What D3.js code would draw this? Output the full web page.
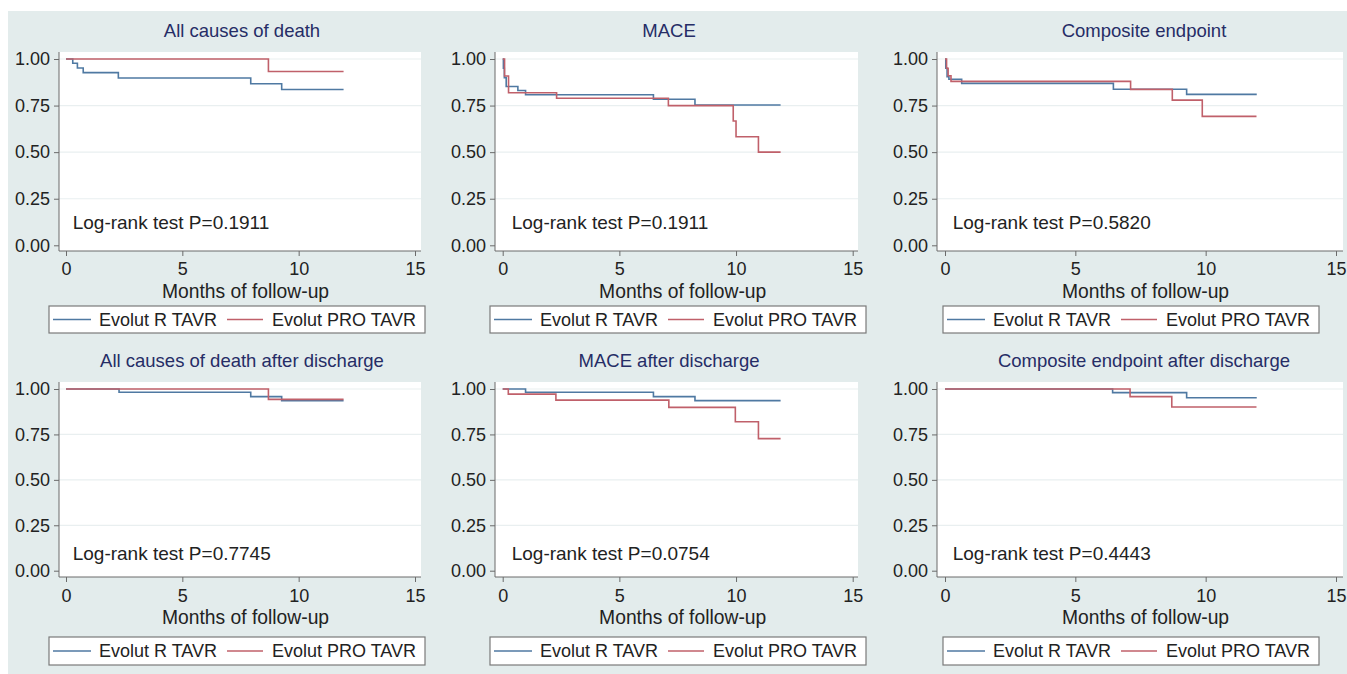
<!DOCTYPE html>
<html>
<head>
<meta charset="utf-8">
<script src="https://cdn.jsdelivr.net/npm/d3@7"></script>
<style>
  html, body { margin: 0; padding: 0; background: #ffffff; }
  svg { display: block; }
  text { font-family: "Liberation Sans", Arial, Helvetica, sans-serif; }
</style>
</head>
<body>
<svg id="chart" width="1347" height="674"></svg>
<script>
// ---------------- DATA ----------------
const panelTitles = [
  "All causes of death", "MACE", "Composite endpoint",
  "All causes of death after discharge", "MACE after discharge", "Composite endpoint after discharge"
];
const pValues = ["0.1911", "0.1911", "0.5820", "0.7745", "0.0754", "0.4443"];
const seriesNames = ["Evolut R TAVR", "Evolut PRO TAVR"];
const xTicks = [0, 5, 10, 15];
const yTicks = [0, 0.25, 0.5, 0.75, 1];
const xLabel = "Months of follow-up";

// Kaplan-Meier steps: [month, survival]
const deathR      = [[0,1],[0.29,0.977],[0.49,0.952],[0.74,0.927],[2.25,0.898],[7.94,0.867],[9.27,0.836],[11.93,0.836]];
const deathPRO    = [[0,1],[8.7,0.933],[11.93,0.933]];
const maceR       = [[0,1],[0.03,0.95],[0.07,0.9],[0.15,0.852],[0.65,0.831],[0.98,0.808],[6.46,0.784],[8.24,0.753],[11.91,0.753]];
const macePRO     = [[0,1],[0.08,0.909],[0.25,0.819],[2.31,0.789],[7.1,0.75],[9.88,0.667],[10.0,0.583],[10.96,0.5],[11.91,0.5]];
const compR       = [[0,1],[0.03,0.95],[0.08,0.905],[0.15,0.891],[0.64,0.869],[6.46,0.838],[9.27,0.81],[11.96,0.81]];
const compPRO     = [[0,1],[0.06,0.95],[0.12,0.91],[0.23,0.88],[7.12,0.837],[8.72,0.779],[9.87,0.692],[11.95,0.692]];
const deathDisR   = [[0,1],[2.28,0.982],[7.94,0.958],[9.27,0.936],[11.93,0.936]];
const deathDisPRO = [[0,1],[8.7,0.943],[11.93,0.943]];
const maceDisR    = [[0,1],[0.98,0.982],[6.46,0.958],[8.24,0.936],[11.91,0.936]];
const maceDisPRO  = [[0,1],[0.24,0.972],[2.28,0.939],[7.12,0.899],[9.97,0.82],[10.96,0.727],[11.91,0.727]];
const compDisR    = [[0,1],[6.43,0.98],[9.27,0.952],[11.96,0.952]];
const compDisPRO  = [[0,1],[7.1,0.958],[8.7,0.901],[11.95,0.901]];

const panelSeries = [
  [deathR, deathPRO], [maceR, macePRO], [compR, compPRO],
  [deathDisR, deathDisPRO], [maceDisR, maceDisPRO], [compDisR, compDisPRO]
];

// ---------------- LAYOUT ----------------
const colors = ["#4f79a2", "#c0606a"];
const rows = [
  {titleY: 30, plotT: 52, plotB: 251, y1: 59, y0: 245.3, xtickY: 269, xlabelY: 291, legT: 306, legB: 333, annY: 222.7},
  {titleY: 360, plotT: 382, plotB: 577, y1: 389, y0: 570.7, xtickY: 596, xlabelY: 617.5, legT: 637, legB: 665, annY: 553.3}
];
const cols = [
  {plotL: 59, plotR: 421, x0: 66, x15: 415, titleX: 242, legL: 49, legR: 425, annX: 72.7},
  {plotL: 495, plotR: 858, x0: 502.7, x15: 852.7, titleX: 669, legL: 490, legR: 866, annX: 511.7},
  {plotL: 937, plotR: 1343, x0: 945, x15: 1336, titleX: 1144, legL: 943, legR: 1319, annX: 952.7}
];

const svg = d3.select("#chart");
svg.append("rect").attr("x", 8).attr("y", 11).attr("width", 1339).attr("height", 663).attr("fill", "#e3ecec");

panelTitles.forEach((title, i) => {
  const r = rows[Math.floor(i / 3)], c = cols[i % 3];
  const g = svg.append("g");
  const x = d3.scaleLinear().domain([0, 15]).range([c.x0, c.x15]);
  const y = d3.scaleLinear().domain([0, 1]).range([r.y0, r.y1]);

  // plot region
  g.append("rect").attr("x", c.plotL).attr("y", r.plotT)
    .attr("width", c.plotR - c.plotL).attr("height", r.plotB - r.plotT).attr("fill", "#ffffff");

  // grid
  g.selectAll(".grid").data(yTicks.filter(d => d > 0)).enter().append("line")
    .attr("x1", c.plotL).attr("x2", c.plotR)
    .attr("y1", d => y(d)).attr("y2", d => y(d))
    .attr("stroke", "#e9eff0").attr("stroke-width", 1.2);

  // title
  g.append("text").attr("x", c.titleX).attr("y", r.titleY)
    .attr("text-anchor", "middle").attr("dominant-baseline", "central")
    .attr("font-size", 18.5).attr("fill", "#262d66").text(title);

  // y axis
  const yAxis = d3.axisLeft(y).tickValues(yTicks).tickFormat(d3.format(".2f")).tickSize(5).tickPadding(4);
  const ya = g.append("g").attr("transform", `translate(${c.plotL},0)`).call(yAxis);
  ya.select(".domain").attr("d", `M0,${r.plotT}V${r.plotB}`).attr("stroke", "#6b6b6b");
  ya.selectAll(".tick line").attr("stroke", "#6b6b6b");
  ya.selectAll(".tick text").attr("font-size", 18).attr("fill", "#222").attr("font-family", "Liberation Sans, Arial, sans-serif");

  // x axis
  const xAxis = d3.axisBottom(x).tickValues(xTicks).tickFormat(d3.format("d")).tickSize(5).tickPadding(5);
  const xa = g.append("g").attr("transform", `translate(0,${r.plotB})`).call(xAxis);
  xa.select(".domain").attr("d", `M${c.plotL},0H${c.plotR}`).attr("stroke", "#6b6b6b");
  xa.selectAll(".tick line").attr("stroke", "#6b6b6b");
  xa.selectAll(".tick text").attr("font-size", 18).attr("fill", "#222")
    .attr("font-family", "Liberation Sans, Arial, sans-serif")
    .attr("dy", null).attr("y", r.xtickY - r.plotB).attr("dominant-baseline", "central");

  // x label
  g.append("text").attr("x", (c.x0 + c.x15) / 2 + 5).attr("y", r.xlabelY)
    .attr("text-anchor", "middle").attr("dominant-baseline", "central")
    .attr("font-size", 19.3).attr("fill", "#222").text(xLabel);

  // curves
  const line = d3.line().x(d => x(d[0])).y(d => y(d[1])).curve(d3.curveStepAfter);
  panelSeries[i].forEach((s, k) => {
    g.append("path").datum(s).attr("d", line)
      .attr("fill", "none").attr("stroke", colors[k]).attr("stroke-width", 1.6);
  });

  // annotation
  g.append("text").attr("x", c.annX).attr("y", r.annY).attr("dominant-baseline", "central")
    .attr("font-size", 19).attr("fill", "#222").text("Log-rank test P=" + pValues[i]);

  // legend
  const lg = g.append("g");
  lg.append("rect").attr("x", c.legL).attr("y", r.legT).attr("width", c.legR - c.legL).attr("height", r.legB - r.legT)
    .attr("fill", "#ffffff").attr("stroke", "#7a7a7a").attr("stroke-width", 1.2);
  const ly = (r.legT + r.legB) / 2;
  const items = [{x1: 4, x2: 42, tx: 50}, {x1: 178, x2: 214, tx: 223}];
  seriesNames.forEach((name, k) => {
    lg.append("line").attr("x1", c.legL + items[k].x1).attr("x2", c.legL + items[k].x2)
      .attr("y1", ly).attr("y2", ly).attr("stroke", colors[k]).attr("stroke-width", 1.6);
    lg.append("text").attr("x", c.legL + items[k].tx).attr("y", ly).attr("dominant-baseline", "central")
      .attr("font-size", 18).attr("fill", "#222").text(name);
  });
});
</script>
</body>
</html>
